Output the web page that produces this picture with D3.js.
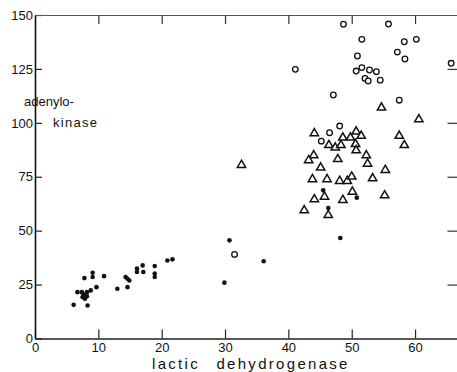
<!DOCTYPE html>
<html>
<head>
<meta charset="utf-8">
<title>adenylokinase vs lactic dehydrogenase</title>
<script src="https://cdn.jsdelivr.net/npm/d3@7"></script>
<style>
    body { margin: 0; background: #fff; }
    text { font-family: "Liberation Sans", Arial, sans-serif; fill: #111; }
</style>
</head>
<body>
<div id="chart"></div>
<script>
var width = 457, height = 372;

// [lactic dehydrogenase, adenylokinase]
var filledDots = [[6.1,15.6],[8.3,15.3],[7.8,28.0],[9.1,30.5],[9.1,28.5],[10.9,28.9],[9.7,23.8],
    [6.7,21.5],[7.4,21.5],[8.2,21.5],[8.8,22.3],[7.5,19.2],[7.9,18.4],[7.7,20.3],[8.2,19.6],
    [13.0,23.1],[14.6,23.8],[14.3,28.5],[14.6,27.7],[14.9,26.9],[16.1,32.4],[16.1,30.8],
    [17.0,33.9],[17.1,30.8],[18.9,33.6],[18.9,30.1],[18.9,28.5],[20.9,36.2],[21.7,36.7],
    [29.9,25.9],[30.7,45.5],[36.1,35.8],[45.5,68.7],[50.8,65.3],[46.3,60.5],[48.2,46.6]];

var openCircles = [[48.7,145.7],[55.8,145.8],[51.6,138.7],[58.3,137.6],[60.2,138.7],[57.2,132.8],
    [50.9,131],[58.4,129.6],[41.1,124.8],[51.6,125.6],[50.7,124],[52.8,124.5],[53.9,123.7],
    [52.1,120.6],[52.6,119.4],[54.5,119.8],[65.7,127.6],[47.1,112.9],[57.5,110.5],[48.1,98.5],
    [46.5,95.4],[45.2,91.5],[31.5,39.0]];

var triangles = [[54.7,107.4],[60.6,102],[44.1,95.5],[48.6,93.5],[49.8,93.5],[50.7,96.3],[51.5,94.3],
    [46.4,90],[47.4,88.9],[48.3,90],[50.6,90.5],[50.7,87.6],[57.5,94.3],[58.3,90],[44.0,85.3],
    [43.2,83],[47.8,83.5],[52.3,85.3],[52.5,81.4],[45.1,79.6],[55.3,78.5],[43.8,74.2],[46.1,74.2],
    [48.1,73.4],[49.3,73.4],[50.0,75.4],[53.3,74.6],[50.1,68.4],[45.7,66.1],[44.1,64.9],[48.6,64.6],
    [55.2,66.7],[42.5,59.8],[46.3,57.6],[32.6,80.8]];

var xTicks = [0, 10, 20, 30, 40, 50, 60];
var yTicks = [0, 25, 50, 75, 100, 125, 150];

var svg = d3.select("#chart").append("svg")
    .attr("width", width)
    .attr("height", height);

var x = d3.scaleLinear().domain([0, 66.7]).range([35, 457.5]);
var y = d3.scaleLinear().domain([0, 150]).range([338.5, 15]);

// frame axes
svg.append("g")
    .attr("transform", "translate(0," + y(0) + ")")
    .call(d3.axisBottom(x).tickValues(xTicks).tickSizeInner(-9).tickSizeOuter(0).tickPadding(4))
    .call(function (g) {
        g.select(".domain").attr("stroke", "#222").attr("stroke-width", 1.4);
        g.selectAll(".tick line").attr("stroke", "#222").attr("stroke-width", 1.2);
        g.selectAll(".tick text").attr("font-size", 13).attr("font-family", "Liberation Sans").attr("fill", "#111");
    });

svg.append("g")
    .attr("transform", "translate(" + x(0) + ",0)")
    .call(d3.axisLeft(y).tickValues(yTicks).tickSizeInner(-7).tickSizeOuter(0).tickPadding(2))
    .call(function (g) {
        g.select(".domain").attr("stroke", "#111").attr("stroke-width", 1.6);
        g.selectAll(".tick line").attr("stroke", "#222").attr("stroke-width", 1.2);
        g.selectAll(".tick text").attr("font-size", 13).attr("font-family", "Liberation Sans").attr("fill", "#111");
    });

svg.append("g")
    .attr("transform", "translate(0," + y(150) + ")")
    .call(d3.axisTop(x).tickValues(xTicks.slice(1)).tickSizeInner(-9).tickSizeOuter(0).tickFormat(""))
    .call(function (g) {
        g.select(".domain").attr("stroke", "#555").attr("stroke-width", 1);
        g.selectAll(".tick line").attr("stroke", "#333").attr("stroke-width", 1.2);
    });

svg.append("g")
    .attr("transform", "translate(" + x(66.7) + ",0)")
    .call(d3.axisRight(y).tickValues([25, 50, 75, 100, 125]).tickSizeInner(-10).tickSizeOuter(0).tickFormat(""))
    .call(function (g) {
        g.select(".domain").remove();
        g.selectAll(".tick line").attr("stroke", "#333").attr("stroke-width", 1.2);
    });

// marks
var tri = d3.symbol().type(d3.symbolTriangle).size(30);
svg.append("g").selectAll("path")
    .data(triangles)
    .enter()
    .append("path")
    .attr("d", tri)
    .attr("transform", function (d) { return "translate(" + x(d[0]) + "," + (y(d[1]) + 0.8) + ")"; })
    .attr("fill", "white")
    .attr("stroke", "#111")
    .attr("stroke-width", 1.5);

svg.append("g").selectAll("circle")
    .data(openCircles)
    .enter()
    .append("circle")
    .attr("cx", function (d) { return x(d[0]); })
    .attr("cy", function (d) { return y(d[1]); })
    .attr("r", 2.8)
    .attr("fill", "white")
    .attr("stroke", "#111")
    .attr("stroke-width", 1.3);

svg.append("g").selectAll("circle")
    .data(filledDots)
    .enter()
    .append("circle")
    .attr("cx", function (d) { return x(d[0]); })
    .attr("cy", function (d) { return y(d[1]); })
    .attr("r", 2.3)
    .attr("fill", "#111");

// labels
svg.append("text")
    .attr("x", 152).attr("y", 369)
    .attr("font-size", 15)
    .attr("letter-spacing", 2.3)
    .attr("word-spacing", 10)
    .text("lactic dehydrogenase");

svg.append("text")
    .attr("x", 24).attr("y", 106)
    .attr("font-size", 13)
    .attr("letter-spacing", 0)
    .text("adenylo-");

svg.append("text")
    .attr("x", 53).attr("y", 127)
    .attr("font-size", 13)
    .attr("letter-spacing", 1.3)
    .text("kinase");
</script>
</body>
</html>
